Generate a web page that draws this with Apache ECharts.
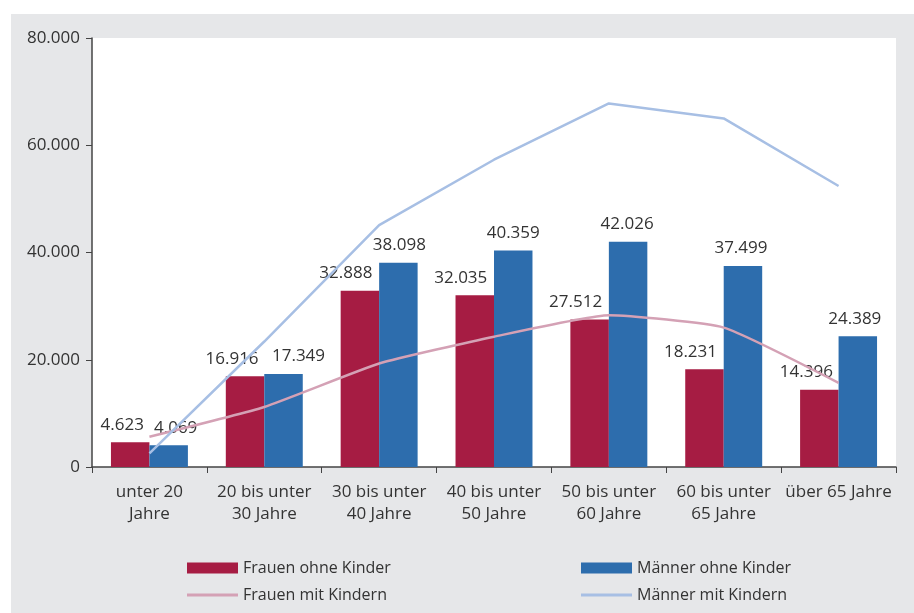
<!DOCTYPE html>
<html><head><meta charset="utf-8">
<script src="https://cdn.jsdelivr.net/npm/echarts@6/dist/echarts.min.js"></script>
<style>html,body{margin:0;padding:0;background:#fff;}#c{width:914px;height:613px;}</style>
</head><body><div id="c"></div>
<script>
var categories = ['unter 20\nJahre', '20 bis unter\n30 Jahre', '30 bis unter\n40 Jahre', '40 bis unter\n50 Jahre', '50 bis unter\n60 Jahre', '60 bis unter\n65 Jahre', 'über 65 Jahre'];
var frauenOhne = [4623, 16916, 32888, 32035, 27512, 18231, 14396];
var maennerOhne = [4069, 17349, 38098, 40359, 42026, 37499, 24389];
var frauenMit = [5650, 11200, 19300, 24300, 28300, 26000, 15700];
var maennerMit = [2550, 23400, 45100, 57300, 67800, 65000, 52400];

// label horizontal nudges (styling only)
var frauenLabelDx = [-8, -13, -14, -14, -14, -14, -13];
var maennerLabelDx = [7, 15, 1, 0, -1, -2, -3];

function fmt(v) { return String(Math.round(v)).replace(/\B(?=(\d{3})+(?!\d))/g, '.'); }
var FONT = 'Open Sans';
var TXT = '#333';
function leg(name, left, top, h) {
  return {data: [name], left: left, top: top, itemWidth: 51, itemHeight: h, padding: 0, icon: 'rect',
          textStyle: {fontFamily: FONT, fontSize: 16, color: TXT}};
}
function withLabels(values, dx) {
  return values.map(function (v, i) { return {value: v, label: {offset: [dx[i], -4]}}; });
}
var chart = echarts.init(document.getElementById('c'), null, {renderer: 'canvas'});
chart.setOption({
  backgroundColor: '#fff',
  animation: false,
  textStyle: {fontFamily: FONT},
  graphic: [{type: 'rect', left: 11, top: 14, shape: {width: 903, height: 599}, style: {fill: '#e6e7e9'}, z: -10, silent: true}],
  grid: {left: 92, top: 38, right: 18, bottom: 146, show: true, backgroundColor: '#fff', borderWidth: 0},
  legend: [
    leg('Frauen ohne Kinder', 187, 560, 11),
    leg('Männer ohne Kinder', 581, 560, 11),
    leg('Frauen mit Kindern', 187, 587, 3),
    leg('Männer mit Kindern', 581, 587, 3)
  ],
  xAxis: {
    type: 'category', data: categories,
    axisLine: {lineStyle: {color: '#444', width: 1.5}},
    axisTick: {show: true, length: 6, lineStyle: {color: '#444'}},
    axisLabel: {fontFamily: FONT, fontSize: 17, color: TXT, lineHeight: 22, margin: 14, interval: 0}
  },
  yAxis: {
    type: 'value', min: 0, max: 80000, interval: 20000,
    axisLine: {show: true, lineStyle: {color: '#444', width: 1.5}},
    axisTick: {show: true, length: 6, lineStyle: {color: '#444'}},
    splitLine: {show: false},
    axisLabel: {fontFamily: FONT, fontSize: 17, color: TXT, margin: 12, formatter: function (v) { return fmt(v); }}
  },
  series: [
    {name: 'Frauen ohne Kinder', type: 'bar', data: withLabels(frauenOhne, frauenLabelDx), barGap: '0%', barCategoryGap: '33%',
     itemStyle: {color: '#a61c43'}, z: 2,
     label: {show: true, position: 'top', distance: 5, fontFamily: FONT, fontSize: 17, color: TXT, formatter: function (p) { return fmt(p.value); }}},
    {name: 'Männer ohne Kinder', type: 'bar', data: withLabels(maennerOhne, maennerLabelDx),
     itemStyle: {color: '#2d6dad'}, z: 2,
     label: {show: true, position: 'top', distance: 5, fontFamily: FONT, fontSize: 17, color: TXT, formatter: function (p) { return fmt(p.value); }}},
    {name: 'Frauen mit Kindern', type: 'line', data: frauenMit, symbol: 'none', smooth: 0.15,
     itemStyle: {color: '#d4a1b5'}, lineStyle: {color: '#d4a1b5', width: 2.5}, z: 3},
    {name: 'Männer mit Kindern', type: 'line', data: maennerMit, symbol: 'none', smooth: false,
     itemStyle: {color: '#a7bfe4'}, lineStyle: {color: '#a7bfe4', width: 2.5}, z: 3}
  ]
});
</script></body></html>
